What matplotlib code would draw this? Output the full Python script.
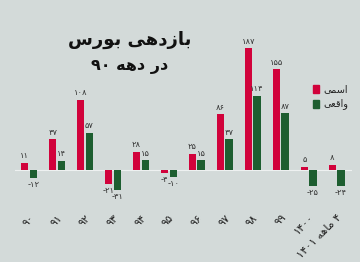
import matplotlib.pyplot as plt
import numpy as np

# Persian text is pre-shaped (presentation forms) and written in visual order
def fa(s):
    return s[::-1]

years = ['۹۰', '۹۱', '۹۲', '۹۳', '۹۴', '۹۵', '۹۶', '۹۷', '۹۸', '۹۹', '۱۴۰۰',
         '۱۴۰۱ ' + fa('\ufee3\ufe8e\ufeeb\ufeea') + ' ۴']
nominal = [11, 47, 108, -21, 28, -4, 25, 86, 187, 155, 5, 8]
real = [-12, 14, 57, -31, 15, -10, 15, 47, 114, 87, -25, -24]

fa_digits = str.maketrans('0123456789', '۰۱۲۳۴۵۶۷۸۹')

title1 = fa('\ufe91\ufeee\ufead\ufeb1') + ' ' + fa('\ufe91\ufe8e\ufeaf\ufea9\ufeeb\ufef0')
title2 = '۹۰ ' + fa('\ufea9\ufeeb\ufeea') + ' ' + fa('\ufea9\ufead')
lab_nom = fa('\ufe8d\ufeb3\ufee4\ufef0')
lab_real = fa('\ufeed\ufe8d\ufed7\ufecc\ufef0')

red = '#d1023b'
green = '#1d5e30'
bg = '#d3dad9'

fig = plt.figure(figsize=(3.6, 2.62), dpi=100, facecolor=bg)
ax = fig.add_axes([15 / 360, 1 - 200 / 262, 337 / 360, 175 / 262])
ax.set_facecolor(bg)

x = np.arange(len(years))
w = 0.26
ax.bar(x - 0.155, nominal, w, color=red)
ax.bar(x + 0.155, real, w, color=green)
ax.axhline(0, color='#eef1f1', lw=0.8, zorder=0)

for i in range(len(years)):
    for off, v in ((-0.155, nominal[i]), (0.155, real[i])):
        t = str(abs(v)).translate(fa_digits)
        if v < 0:
            ax.text(x[i] + off, v - 3, '-' + t, ha='center', va='top',
                    fontsize=6, color='#333333')
        else:
            ax.text(x[i] + off, v + 4, t, ha='center', va='bottom',
                    fontsize=6, color='#333333')

ax.set_xlim(-0.5, 11.55)
ax.set_ylim(-46, 223)
ax.set_xticks(x)
ax.set_xticklabels(years, rotation=45, ha='right', va='top',
                   rotation_mode='anchor', fontsize=8, color='#222222')
ax.tick_params(axis='x', length=0, pad=9)
ax.set_yticks([])
for s in ax.spines.values():
    s.set_visible(False)

fig.text(130 / 360, 1 - 40 / 262, title1, ha='center', va='center',
         fontsize=13, fontweight='bold', color='#111111')
fig.text(130 / 360, 1 - 67 / 262, title2, ha='center', va='center',
         fontsize=11.5, fontweight='bold', color='#111111')

fig.patches.append(plt.Rectangle((313 / 360, 1 - 93 / 262), 6 / 360, 8 / 262,
                                 transform=fig.transFigure, color=red))
fig.patches.append(plt.Rectangle((313 / 360, 1 - 108 / 262), 6 / 360, 8 / 262,
                                 transform=fig.transFigure, color=green))
fig.text(323 / 360, 1 - 89 / 262, lab_nom, ha='left', va='center',
         fontsize=7, color='#222222')
fig.text(323 / 360, 1 - 104 / 262, lab_real, ha='left', va='center',
         fontsize=7, color='#222222')

fig.savefig('out.png', dpi=100, facecolor=bg)
